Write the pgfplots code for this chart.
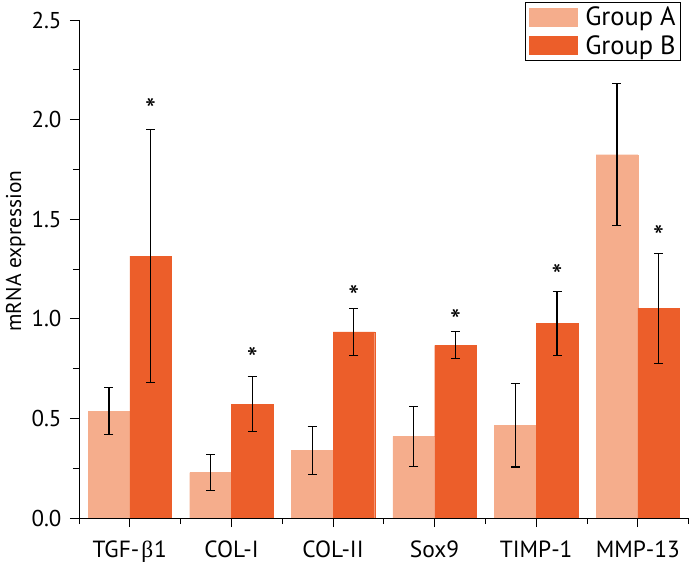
\documentclass[border=0pt]{standalone}
\usepackage{pgfplots}
\pgfplotsset{compat=1.18}
\usepackage{fontspec}
\setmainfont{PT Sans}
\newfontfamily\greekfont{Liberation Serif}
\definecolor{grpA}{RGB}{245,173,140}
\definecolor{grpB}{RGB}{236,94,42}
\begin{document}
\begin{tikzpicture}
\begin{axis}[
  scale only axis, width=609.6bp, height=498bp,
  xmin=-0.5, xmax=5.5, ymin=0, ymax=2.5,
  axis x line*=bottom, axis y line*=left,
  axis line style={line width=1pt, -},
  xtick={0,...,5},
  xticklabels={TGF-\hspace{2bp}{\greekfont β}\hspace{1bp}1, COL-I, COL-II, Sox9, TIMP-1, MMP-13},
  minor xtick={-0.5,0.5,...,5.5},
  ytick={0,0.5,1,1.5,2,2.5}, minor ytick={0.25,0.75,1.25,1.75,2.25},
  tick align=outside, major tick length=9bp, minor tick length=6bp,
  tick style={black, line width=0.9pt},
  /pgf/number format/assume math mode=true,
  yticklabel style={/pgf/number format/fixed, /pgf/number format/fixed zerofill, /pgf/number format/precision=1,
    font=\fontsize{23}{25}\selectfont, xshift=-5bp},
  xticklabel style={font=\fontsize{23.5}{26}\selectfont, anchor=base, yshift=-30.5bp, inner sep=0.5bp},
  ylabel={mRNA expression},
  ylabel style={font=\fontsize{21.5}{24}\selectfont, at={(axis description cs:-0.0951,0.536)}, anchor=base},
  legend style={at={(rel axis cs:0.9875,1.0367)}, anchor=north east, draw=black, line width=0.8pt,
    font=\fontsize{26.5}{28}\selectfont, inner sep=3.5bp, row sep=5bp,
    nodes={inner sep=1.5bp},
    /tikz/every odd column/.append style={column sep=7bp}},
  legend cell align=left,
]
\addplot[ybar, bar width=0.41, bar shift=0, fill=grpA, draw=grpA, line width=0.2pt,
  legend image code/.code={\fill[grpA] (0bp,-9bp) rectangle (48bp,9bp);},
  error bars/.cd, y dir=both, y explicit,
  error bar style={black, line width=1.1pt},
  error mark options={rotate=90, black, line width=1.1pt, mark size=4.5bp}]
coordinates {
  (-0.205,0.537) +- (0,0.119)
  (0.795,0.228) +- (0,0.090)
  (1.795,0.340) +- (0,0.121)
  (2.795,0.410) +- (0,0.151)
  (3.795,0.465) +- (0,0.209)
  (4.795,1.824) +- (0,0.357)
};
\addlegendentry{Group A}
\addplot[ybar, bar width=0.41, bar shift=0, fill=grpB, draw=grpB, line width=0.2pt,
  legend image code/.code={\fill[grpB] (0bp,-9bp) rectangle (48bp,9bp);},
  error bars/.cd, y dir=both, y explicit,
  error bar style={black, line width=1.1pt},
  error mark options={rotate=90, black, line width=1.1pt, mark size=4.5bp}]
coordinates {
  (0.205,1.315) +- (0,0.637)
  (1.205,0.571) +- (0,0.138)
  (2.205,0.934) +- (0,0.119)
  (3.205,0.867) +- (0,0.068)
  (4.205,0.976) +- (0,0.159)
  (5.205,1.053) +- (0,0.276)
};
\addlegendentry{Group B}
\addplot[draw=none, mark=none, forget plot, nodes near coords={*}, nodes near coords align={center},
  every node near coord/.append style={font=\fontsize{31}{31}\selectfont, inner sep=0pt, anchor=center}]
coordinates {
  (0.205,2.052) (1.205,0.802) (2.205,1.112) (3.205,0.992) (4.205,1.217) (5.205,1.413)
};
\coordinate (O) at (rel axis cs:0,0);
\end{axis}
\pgfresetboundingbox
\path[use as bounding box] ([shift={(-79bp,-46bp)}]O) rectangle ([shift={(610bp,518bp)}]O);
\end{tikzpicture}
\end{document}
